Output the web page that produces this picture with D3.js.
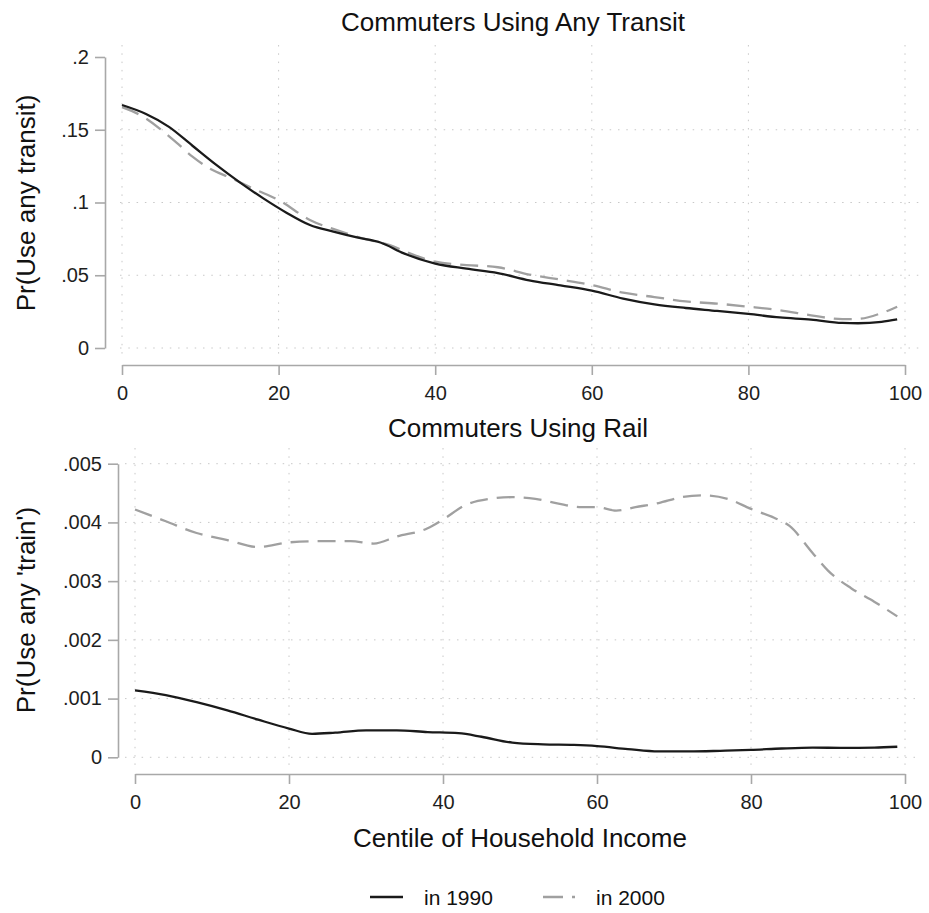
<!DOCTYPE html>
<html>
<head>
  <meta charset="utf-8">
  <title>Commuters by income centile</title>
  <script src="https://d3js.org/d3.v7.min.js"></script>
  <style>
    body { margin: 0; background: #fff; }
    svg { font-family: "Liberation Sans", Arial, sans-serif; }
    .tick text { fill: #1e1e1e; }
  </style>
</head>
<body>
  <div id="chart"></div>
  <script>
    // Podaci očitani sa slike (centil -> vjerojatnost)
    var transitX1990 = [0, 3, 6, 9, 12, 15, 18, 21, 24, 27, 30, 33, 36, 40, 44, 48, 52, 56, 60, 64, 68, 72, 76, 80, 84, 88, 92, 94, 97, 99];
    var transit1990 = [0.167, 0.161, 0.152, 0.139, 0.126, 0.114, 0.103, 0.093, 0.0845, 0.080, 0.076, 0.0725, 0.065, 0.058, 0.0545, 0.0515, 0.0465, 0.043, 0.0394, 0.034, 0.030, 0.0275, 0.0255, 0.0234, 0.021, 0.0195, 0.0172, 0.017, 0.018, 0.0197];

    var transitX2000 = [0, 3, 5, 7, 9, 11, 14, 17, 20, 24, 28, 31, 34, 37, 40, 44, 48, 52, 56, 60, 64, 68, 72, 76, 80, 84, 88, 92, 94, 97, 99];
    var transit2000 = [0.1655, 0.158, 0.150, 0.141, 0.1315, 0.124, 0.1166, 0.109, 0.1017, 0.088, 0.080, 0.075, 0.071, 0.0645, 0.0593, 0.057, 0.0555, 0.0505, 0.047, 0.0433, 0.038, 0.035, 0.032, 0.0305, 0.0284, 0.026, 0.0225, 0.0198, 0.020, 0.024, 0.0284];

    var railX1990 = [0, 4, 8, 12, 16, 20, 23, 26, 30, 34, 38, 42, 45, 49, 53, 57, 60, 64, 68, 72, 76, 80, 84, 88, 92, 96, 99];
    var rail1990 = [0.00114, 0.00106, 0.00094, 0.0008, 0.00064, 0.00049, 0.0004, 0.00042, 0.00046, 0.00046, 0.00043, 0.00041, 0.00035, 0.00025, 0.00022, 0.00021, 0.00019, 0.00014, 0.0001, 0.0001, 0.00011, 0.000125, 0.00015, 0.000165, 0.00016, 0.000165, 0.00018];

    var railX2000 = [0, 4, 8, 12, 16, 20, 24, 28, 31, 34, 38, 40, 43, 46, 49, 52, 55, 58, 60, 62.5, 65, 68, 71, 74, 77, 80, 83, 85, 88, 90, 93, 96, 99];
    var rail2000 = [0.00422, 0.00402, 0.00382, 0.0037, 0.00358, 0.00366, 0.00368, 0.00368, 0.00364, 0.00376, 0.0039, 0.00405, 0.0043, 0.0044, 0.00443, 0.0044, 0.00432, 0.00426, 0.00426, 0.0042, 0.00426, 0.00433, 0.00443, 0.00446, 0.0044, 0.00423, 0.00408, 0.00394, 0.00348, 0.00318, 0.00288, 0.00265, 0.0024];

    var xTicks = [0, 20, 40, 60, 80, 100];
    var yTicksTransit = [0, 0.05, 0.1, 0.15, 0.2];
    var yTicksRail = [0, 0.001, 0.002, 0.003, 0.004, 0.005];

    var seriesNames = ["in 1990", "in 2000"];

    var width = 929, height = 913;
    var svg = d3.select("#chart").append("svg")
      .attr("width", width)
      .attr("height", height);

    // Oznake bez vodeće nule, kao u Stati
    function fmt(d) {
      return d === 0 ? "0" : String(d).replace(/^0/, "");
    }

    function zip(xs, ys) {
      return xs.map(function (x, i) { return { x: x, y: ys[i] }; });
    }

    //Funkcija za crtanje jednog panela
    function drawPanel(p) {
      var x = d3.scaleLinear().domain([0, 100]).range([p.left, p.right]);
      var y = d3.scaleLinear().domain([0, p.yMax]).range([p.bottom, p.top]);
      var g = svg.append("g");

      // mreža
      g.selectAll(".vgrid")
        .data(xTicks)
        .join("line")
        .attr("x1", function (d) { return x(d); })
        .attr("x2", function (d) { return x(d); })
        .attr("y1", p.gridTop)
        .attr("y2", p.gridBottom)
        .attr("stroke", "#c8c8c8")
        .attr("stroke-width", 1)
        .attr("stroke-dasharray", "1.5,6.8");

      g.selectAll(".hgrid")
        .data(p.gridY)
        .join("line")
        .attr("x1", p.gridLeft)
        .attr("x2", p.gridRight)
        .attr("y1", function (d) { return y(d); })
        .attr("y2", function (d) { return y(d); })
        .attr("stroke", "#c8c8c8")
        .attr("stroke-width", 1)
        .attr("stroke-dasharray", "1.5,6.8");

      // osi
      var yAxis = g.append("g")
        .attr("transform", "translate(" + p.yAxisX + ",0)")
        .call(d3.axisLeft(y).tickValues(p.yTicks).tickFormat(fmt)
          .tickSize(10).tickSizeOuter(0).tickPadding(6));

      var xAxis = g.append("g")
        .attr("transform", "translate(0," + p.xAxisY + ")")
        .call(d3.axisBottom(x).tickValues(xTicks).tickFormat(d3.format("d"))
          .tickSize(10).tickSizeOuter(0).tickPadding(11));

      [yAxis, xAxis].forEach(function (a) {
        a.select(".domain").attr("stroke", "#a8a8a8").attr("stroke-width", 1.6);
        a.selectAll(".tick line").attr("stroke", "#a8a8a8").attr("stroke-width", 1.6);
        a.selectAll(".tick text").style("font-size", "20px");
      });

      var line = d3.line()
        .x(function (d) { return x(d.x); })
        .y(function (d) { return y(d.y); })
        .curve(d3.curveMonotoneX);

      g.append("path")
        .datum(zip(p.x2000, p.y2000))
        .attr("d", line)
        .attr("fill", "none")
        .attr("stroke", "#a0a0a0")
        .attr("stroke-width", 2.3)
        .attr("stroke-dasharray", "18,9");

      g.append("path")
        .datum(zip(p.x1990, p.y1990))
        .attr("d", line)
        .attr("fill", "none")
        .attr("stroke", "#1a1a1a")
        .attr("stroke-width", 2.3);

      // naslovi
      g.append("text")
        .attr("x", p.titleX)
        .attr("y", p.titleY)
        .attr("text-anchor", "middle")
        .style("font-size", "26px")
        .attr("fill", "#111")
        .text(p.title);

      g.append("text")
        .attr("transform", "translate(35," + p.yTitleY + ") rotate(-90)")
        .attr("text-anchor", "middle")
        .style("font-size", "26px")
        .attr("fill", "#111")
        .text(p.yTitle);

      if (p.xTitle) {
        g.append("text")
          .attr("x", 520)
          .attr("y", 847)
          .attr("text-anchor", "middle")
          .style("font-size", "26px")
          .attr("fill", "#111")
          .text(p.xTitle);
      }
    }

    drawPanel({
      left: 122, right: 905, top: 57, bottom: 348,
      yMax: 0.2, yTicks: yTicksTransit, gridY: [0, 0.05, 0.1, 0.15],
      yAxisX: 105, xAxisY: 365,
      gridTop: 45, gridBottom: 356, gridLeft: 120, gridRight: 920,
      x1990: transitX1990, y1990: transit1990, x2000: transitX2000, y2000: transit2000,
      title: "Commuters Using Any Transit", titleX: 513, titleY: 31,
      yTitle: "Pr(Use any transit)", yTitleY: 203
    });

    drawPanel({
      left: 135, right: 905, top: 463.7, bottom: 757.3,
      yMax: 0.005, yTicks: yTicksRail, gridY: yTicksRail,
      yAxisX: 118, xAxisY: 774,
      gridTop: 448, gridBottom: 768, gridLeft: 125, gridRight: 920,
      x1990: railX1990, y1990: rail1990, x2000: railX2000, y2000: rail2000,
      title: "Commuters Using Rail", titleX: 518, titleY: 437,
      yTitle: "Pr(Use any 'train')", yTitleY: 610,
      xTitle: "Centile of Household Income"
    });

    // legenda
    var legend = svg.append("g");
    legend.append("line")
      .attr("x1", 370).attr("x2", 403).attr("y1", 897).attr("y2", 897)
      .attr("stroke", "#1a1a1a").attr("stroke-width", 2.3);
    legend.append("text")
      .attr("x", 424).attr("y", 905)
      .style("font-size", "21px").attr("fill", "#111")
      .text(seriesNames[0]);
    legend.append("line")
      .attr("x1", 543).attr("x2", 575).attr("y1", 897).attr("y2", 897)
      .attr("stroke", "#a0a0a0").attr("stroke-width", 2.3)
      .attr("stroke-dasharray", "20,9");
    legend.append("text")
      .attr("x", 596).attr("y", 905)
      .style("font-size", "21px").attr("fill", "#111")
      .text(seriesNames[1]);
  </script>
</body>
</html>
